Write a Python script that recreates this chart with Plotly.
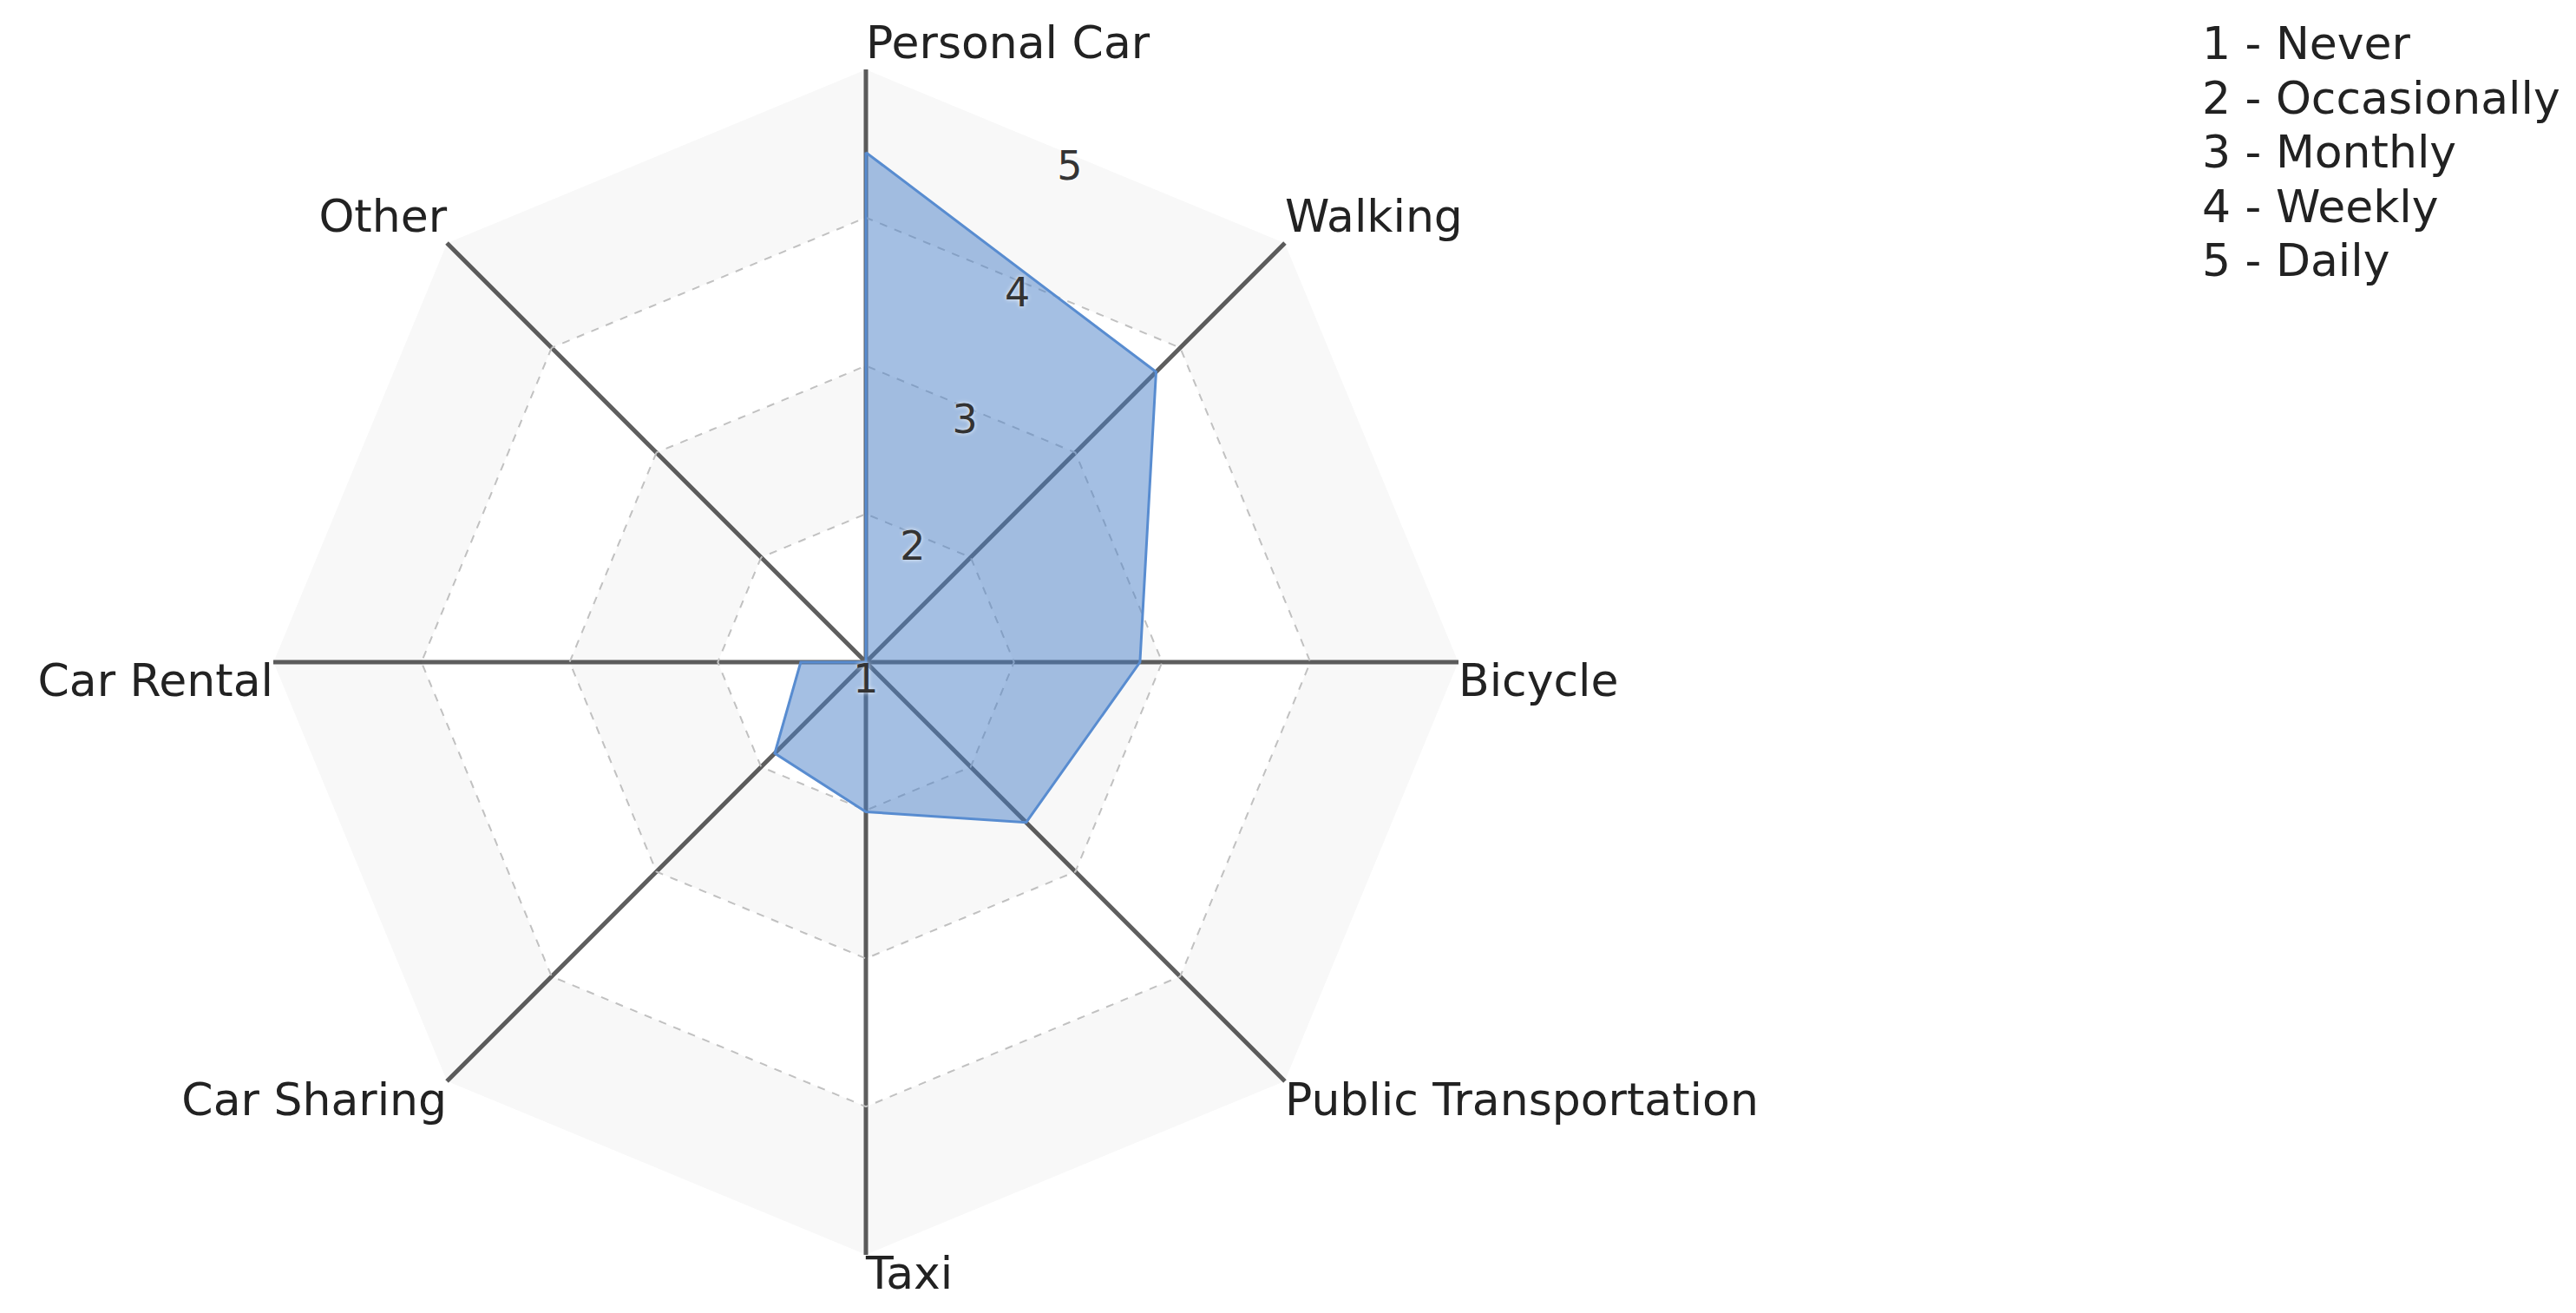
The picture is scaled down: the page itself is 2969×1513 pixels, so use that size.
import math
import plotly.graph_objects as go

# modes of transport, clockwise from the top
categories = ['Personal Car', 'Walking', 'Bicycle', 'Public Transportation',
              'Taxi', 'Car Sharing', 'Car Rental', 'Other']
frequency = [4.44, 3.77, 2.85, 2.53, 2.01, 1.87, 1.44, 1.0]

scale_levels = [1, 2, 3, 4, 5]
scale_names = ['Never', 'Occasionally', 'Monthly', 'Weekly', 'Daily']

# shaded rings of the background (2-3 and 4-5)
bands = [(2, 3), (4, 5)]

label_pos = ['top right', 'top right', 'bottom right', 'bottom right',
             'bottom right', 'bottom left', 'bottom left', 'top left']

FONT = 'DejaVu Sans'
FS = 52

fig = go.Figure()

loop = categories + [categories[0]]
for lo, hi in bands:
    fig.add_trace(go.Scatterpolar(
        r=[hi] * len(loop) + [lo] * len(loop),
        theta=loop + loop[::-1],
        mode='lines', fill='toself',
        fillcolor='rgba(0,0,0,0.027)',
        line=dict(width=0),
        hoverinfo='skip', showlegend=False,
    ))

fig.add_trace(go.Scatterpolar(
    r=frequency + [frequency[0]],
    theta=loop,
    mode='lines', fill='toself',
    fillcolor='rgba(74,128,199,0.5)',
    line=dict(color='rgb(88,140,208)', width=3),
    showlegend=False,
))

# category names at the tip of each spoke
fig.add_trace(go.Scatterpolar(
    r=[scale_levels[-1]] * len(categories),
    theta=categories,
    mode='text', text=categories,
    textposition=label_pos,
    textfont=dict(family=FONT, size=FS, color='#222'),
    cliponaxis=False, hoverinfo='skip', showlegend=False,
))

# scale numbers sit in the middle of the octagon edge between
# Personal Car and Walking, drawn on an overlaid plain polar subplot
half = 180 / len(categories)
edge = math.cos(math.radians(half))
lab_r = [1 + (v - 1) * edge - (0.1 if v > 1 else 0) for v in scale_levels]
lab_pos = ['bottom center'] + ['middle center'] * (len(scale_levels) - 1)
fig.add_trace(go.Scatterpolar(
    r=lab_r, theta=[half] * len(scale_levels),
    mode='text', text=[str(v) for v in scale_levels],
    textposition=lab_pos,
    textfont=dict(family=FONT, size=FS - 6, color='#333',
                  shadow='0px 0px 5px rgba(255,255,255,0.9)'),
    subplot='polar2', cliponaxis=False,
    hoverinfo='skip', showlegend=False,
))

R = 683
cx, cy = 990, 755
W, H = 2969, 1513
dom = dict(x=[(cx - R) / W, (cx + R) / W], y=[1 - (cy + R) / H, 1 - (cy - R) / H])

fig.update_layout(
    width=W, height=H,
    margin=dict(l=0, r=0, t=0, b=0),
    paper_bgcolor='white',
    font=dict(family=FONT, color='#222'),
    polar=dict(
        domain=dom,
        bgcolor='white',
        gridshape='linear',
        angularaxis=dict(
            categoryorder='array', categoryarray=categories,
            rotation=90, direction='clockwise',
            showticklabels=False, ticks='',
            showline=False,
            gridcolor='#5e5e5e', gridwidth=5,
            layer='below traces',
        ),
        radialaxis=dict(
            range=[scale_levels[0], scale_levels[-1]],
            tickvals=scale_levels,
            showline=False, ticks='', showticklabels=False,
            gridcolor='#c4c4c4', gridwidth=2, griddash='dash',
            layer='below traces',
        ),
    ),
    polar2=dict(
        domain=dom,
        bgcolor='rgba(0,0,0,0)',
        angularaxis=dict(rotation=90, direction='clockwise',
                         showticklabels=False, ticks='', showline=False,
                         showgrid=False),
        radialaxis=dict(range=[scale_levels[0], scale_levels[-1]],
                        showticklabels=False, ticks='', showline=False,
                        showgrid=False),
    ),
)

for i, (lvl, name) in enumerate(zip(scale_levels, scale_names)):
    fig.add_annotation(
        x=2528 / W, y=1 - (42 + i * 62.5) / H,
        xref='paper', yref='paper', xanchor='left', yanchor='middle',
        text=f'{lvl} - {name}', showarrow=False,
        font=dict(family=FONT, size=FS, color='#222'),
    )

fig.write_html('out.html')
